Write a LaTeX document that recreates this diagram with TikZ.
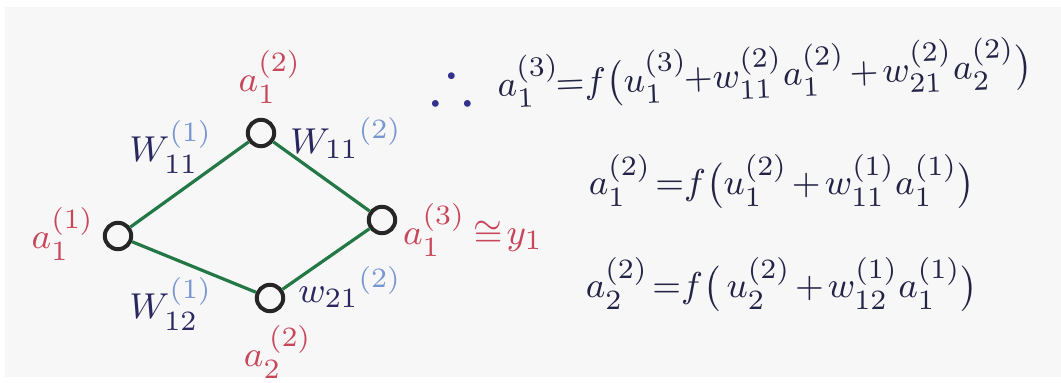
\documentclass[tikz,border=0pt]{standalone}
\usepackage{amssymb}
\definecolor{redink}{RGB}{200,70,90}
\definecolor{navyink}{RGB}{40,40,95}
\definecolor{lightblueink}{RGB}{120,150,210}
\definecolor{edgegreen}{RGB}{35,120,70}
\definecolor{eqink}{RGB}{35,35,70}
\definecolor{dotink}{RGB}{50,50,140}
\tikzset{
  neuron/.style={circle,draw=black!85,line width=1pt,minimum size=6.6pt,inner sep=0pt},
  conn/.style={edgegreen,line width=0.8pt},
  redlab/.style={text=redink,inner sep=0pt,font=\fontsize{9.5}{12}\selectfont},
  wlab/.style={text=navyink,inner sep=0pt,font=\fontsize{9.5}{12}\selectfont},
  eq/.style={text=eqink,inner sep=0pt,anchor=base west,font=\fontsize{9.5}{12}\selectfont}
}
\newcommand{\lb}[1]{\textcolor{lightblueink}{#1}}
\begin{document}
\begin{tikzpicture}[x=0.25pt,y=-0.25pt]
\useasboundingbox (0,0) rectangle (1061,383);
\fill[black!3] (5,7) rectangle (1061,377);
% neurons
\node[neuron] (n1) at (118,236) {};
\node[neuron] (n2) at (261,133) {};
\node[neuron] (n3) at (270,298) {};
\node[neuron] (n4) at (382,220) {};
% connectors
\draw[conn] (n1) -- (n2);
\draw[conn] (n1) -- (n3);
\draw[conn] (n2) -- (n4);
\draw[conn] (n3) -- (n4);
% activation labels
\node[redlab] (l1) at (63,234) {$a_1^{(1)}$};
\node[redlab] (l2) at (270,77) {$a_1^{(2)}$};
\node[redlab] (l3) at (278,352) {$a_2^{\,(2)}$};
\node[redlab] (l4) at (473,230) {$a_1^{(3)}\mkern4mu{\cong}\mkern2mu y_1$};
% weight labels
\node[wlab] (w1) at (171,147) {$W_{11}^{\lb{(1)}}$};
\node[wlab] (w2) at (346,138) {${W_{11}}^{\lb{(2)}}$};
\node[wlab] (w3) at (171,304) {$W_{12}^{\lb{(1)}}$};
\node[wlab] (w4) at (350,287) {${w_{21}}^{\lb{(2)}}$};
% equations
\node[text=dotink,inner sep=0pt,font=\fontsize{16}{18}\selectfont] (th) at (452,80) {$\therefore$};
\node[eq,rotate=2.2] (e1) at (497,97) {$a_1^{(3)}\mkern-2mu{=}f\bigl(u_1^{(3)}\mkern-2mu{+}w_{11}^{(2)}a_1^{(2)}\mkern2mu{+}\mkern2mu w_{21}^{(2)}a_2^{(2)}\bigr)$};
\node[eq] (e2) at (588,195) {$a_1^{(2)}\mkern2mu{=}f\bigl(u_1^{(2)}\mkern2mu{+}\mkern2mu w_{11}^{(1)}a_1^{(1)}\bigr)$};
\node[eq] (e3) at (585,298) {$a_2^{(2)}\mkern2mu{=}f\bigl(\,u_2^{(2)}\mkern2mu{+}\mkern2mu w_{12}^{(1)}a_1^{(1)}\bigr)$};
\end{tikzpicture}
\end{document}
